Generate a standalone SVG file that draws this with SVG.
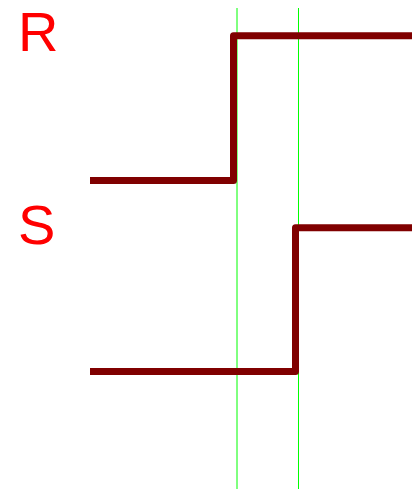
<svg xmlns="http://www.w3.org/2000/svg" width="412" height="490" viewBox="0 0 412 490">
<style>
.lbl{font-family:"Liberation Sans",Arial,sans-serif;font-size:56px;fill:#ff0000}
.wave{fill:none;stroke:#800000;stroke-width:7;stroke-linejoin:round;stroke-linecap:butt}
.guide{stroke:#00ff00;stroke-width:1;fill:none}
</style>
<rect width="412" height="490" fill="#ffffff"/>
<g id="guides">
<line class="guide" x1="237" y1="8" x2="237" y2="489"/>
<line class="guide" x1="298.5" y1="8" x2="298.5" y2="489"/>
</g>
<g id="connectors">
<polyline id="wave-R" class="wave" points="90,180.5 233.5,180.5 233.5,35.8 412,35.8"/>
<polyline id="wave-S" class="wave" points="90,371.5 295.5,371.5 295.5,227.8 412,227.8"/>
</g>
<g id="label-R"><text class="lbl" x="18" y="51">R</text></g>
<g id="label-S"><text class="lbl" x="18" y="244">S</text></g>
</svg>
